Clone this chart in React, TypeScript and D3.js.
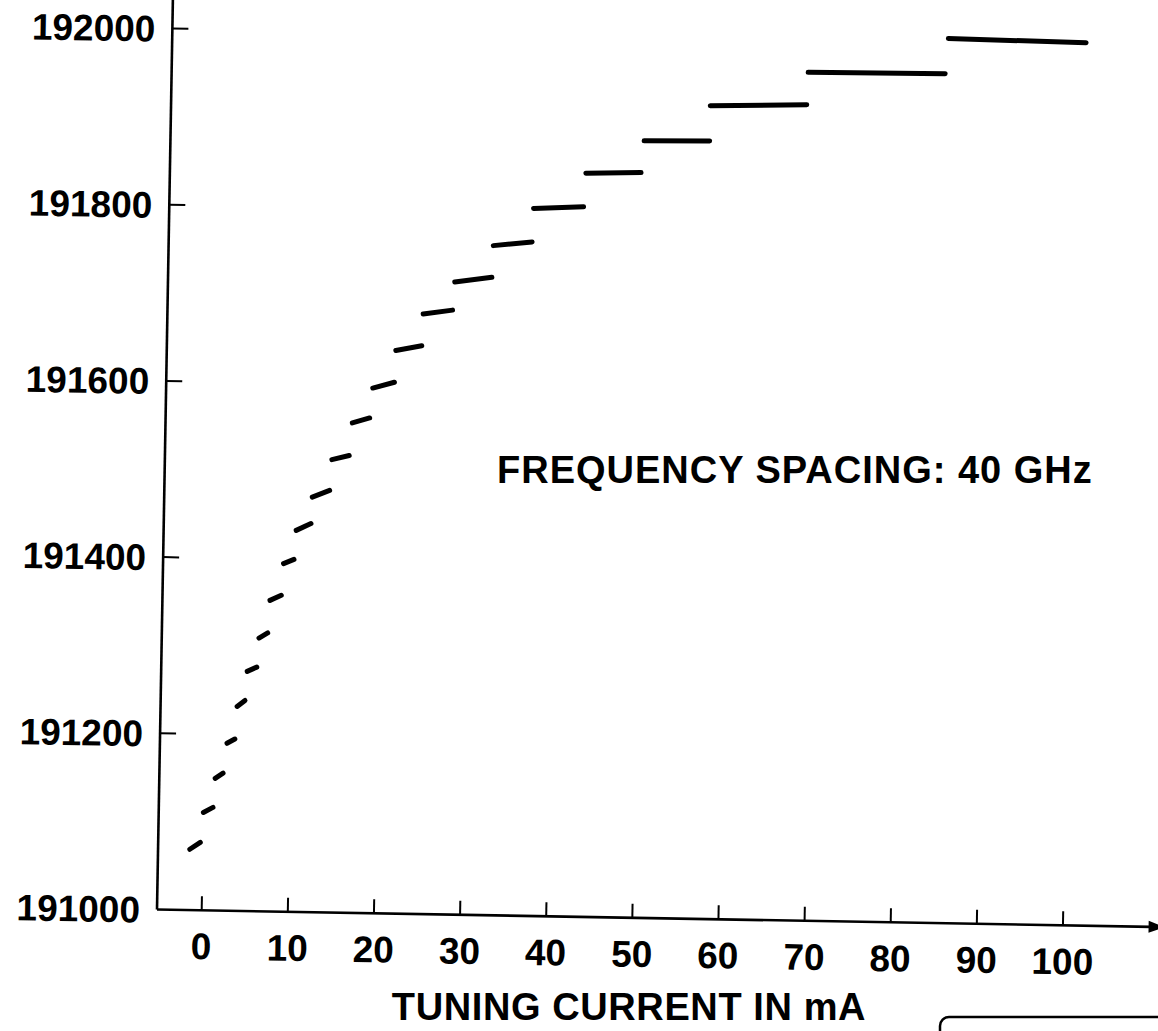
import React from 'react';
import * as d3 from 'd3';

// Each mode segment: tuning current (mA) at start/end, frequency (GHz) at start/end
const currentStart = [-1.5, 0.0, 1.3, 2.6, 3.7, 4.8, 6.1, 7.3, 8.8, 10.2, 12.0, 14.2, 16.5, 18.8, 21.4, 24.5, 28.1, 32.5, 37.1, 43.1, 49.8, 57.4, 68.7, 84.9];
const currentEnd = [-0.3, 1.1, 2.2, 3.5, 4.6, 5.9, 7.1, 8.6, 10.0, 11.9, 14.0, 16.2, 18.5, 21.3, 24.4, 27.9, 32.4, 37.0, 42.9, 49.5, 57.4, 68.6, 84.6, 100.9];
const freqStart = [191069, 191111, 191150, 191190, 191232, 191272, 191310, 191353, 191395, 191433, 191471, 191514, 191556, 191596, 191639, 191681, 191718, 191760, 191803, 191844, 191882, 191923, 191963, 192004];
const freqEnd = [191077, 191117, 191156, 191195, 191239, 191277, 191316, 191359, 191400, 191441, 191479, 191519, 191562, 191603, 191645, 191686, 191724, 191765, 191806, 191846, 191883, 191926, 191964, 192002];

const xTicks = [0, 10, 20, 30, 40, 50, 60, 70, 80, 90, 100];
const yTicks = [191000, 191200, 191400, 191600, 191800, 192000];

const xTitle = 'TUNING CURRENT IN mA';
const note = 'FREQUENCY SPACING: 40 GHz';

export default function App() {
  const W = 1158, H = 1031;
  const ox = 157, oy = 909.5, angle = 1.0;
  const font = '"Liberation Sans", Arial, Helvetica, sans-serif';
  const ink = '#000';

  const x = d3.scaleLinear().domain([0, 100]).range([44.7, 906.1]);
  const y = d3.scaleLinear().domain([191000, 192000]).range([0, -881.1]);
  const line = d3.line<[number, number]>().x(d => x(d[0])).y(d => y(d[1]));

  const xMin = x.invert(0);
  const xMax = 111.8;
  const yMax = 192045;
  const tipX = x(xMax);

  const segs = currentStart.map((c, i) => [[c, freqStart[i]], [currentEnd[i], freqEnd[i]]] as [number, number][]);

  return (
    <svg width={W} height={H} style={{ position: 'absolute', left: 0, top: 0, background: '#fff' }}
      xmlns="http://www.w3.org/2000/svg">
      <rect x={0} y={0} width={W} height={H} fill="#fff" />
      <g transform={`translate(${ox},${oy}) rotate(${angle})`} fontFamily={font} fontWeight="bold" fill={ink}>
        {/* y axis */}
        <line x1={0} y1={y(191000)} x2={0} y2={y(yMax)} stroke={ink} strokeWidth={2.6} />
        {yTicks.filter(t => t > 191000).map(t => (
          <line key={'yt' + t} x1={0} x2={16} y1={y(t)} y2={y(t)} stroke={ink} strokeWidth={2} />
        ))}
        {yTicks.map(t => (
          <text key={'yl' + t} x={-17} y={y(t)} dy="0.36em" textAnchor="end" fontSize={37}>{t}</text>
        ))}
        {/* x axis */}
        <line x1={x(xMin)} y1={0} x2={tipX - 14} y2={0} stroke={ink} strokeWidth={2.6} />
        <path d={`M${tipX},0 L${tipX - 16},-6 L${tipX - 16},6 Z`} fill={ink} />
        {xTicks.map(t => (
          <line key={'xt' + t} x1={x(t)} x2={x(t)} y1={0} y2={-14} stroke={ink} strokeWidth={2} />
        ))}
        {xTicks.map(t => (
          <text key={'xl' + t} x={x(t)} y={49} textAnchor="middle" fontSize={37}>{t}</text>
        ))}
        {/* mode segments */}
        {segs.map((s, i) => (
          <path key={'s' + i} d={line(s) || ''} fill="none" stroke={ink} strokeWidth={5} strokeLinecap="round" />
        ))}
      </g>
      <g fontFamily={font} fontWeight="bold" fill={ink}>
        <text x={629} y={1020} textAnchor="middle" fontSize={38} letterSpacing={0.6}>{xTitle}</text>
        <text x={497} y={483} textAnchor="start" fontSize={38} letterSpacing={1}>{note}</text>
      </g>
      <rect x={940} y={1017} width={280} height={80} rx={9} fill="none" stroke={ink} strokeWidth={2.5} />
    </svg>
  );
}
